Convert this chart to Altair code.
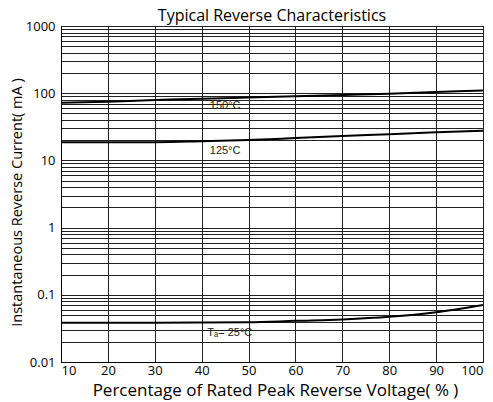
import altair as alt
import pandas as pd

pct = [10, 20, 30, 40, 50, 60, 70, 80, 90, 100]
i_150 = [72, 74.8, 79, 83, 86, 90, 94, 98.4, 104, 110]
i_125 = [18.6, 18.6, 18.7, 19.3, 20.1, 21.5, 23.1, 24.4, 26.2, 27.7]
i_25 = [0.0385, 0.0385, 0.0385, 0.0387, 0.039, 0.041, 0.043, 0.047, 0.055, 0.0705]

series = ["150°C", "125°C", "25°C"]
label_text = ["150°C", "125°C", "Tₐ= 25°C"]
label_x = [45, 45, 46]
label_y = [64, 13.8, 0.0267]

y_grid = [m * 10.0 ** k for k in range(-2, 3) for m in range(1, 10)] + [1000]
x_grid = pct

rows = []
for s, vals in zip(series, [i_150, i_125, i_25]):
    for x, v in zip(pct, vals):
        rows.append({"pct": x, "i": v, "s": s})
df = pd.DataFrame(rows)
lab = pd.DataFrame({"t": label_text, "x": label_x, "y": label_y})

FONT = "Open Sans"

xs = alt.Scale(domain=[10, 100], nice=False, zero=False)
ys = alt.Scale(type="log", domain=[0.01, 1000], nice=False)

lines = alt.Chart(df).mark_line(color="black", strokeWidth=2, interpolate="monotone").encode(
    x=alt.X("pct:Q", scale=xs,
            axis=alt.Axis(values=x_grid, title="Percentage of Rated Peak Reverse Voltage( % )",
                          grid=True, gridColor="#222", gridOpacity=1, ticks=False,
                          labelFont=FONT, labelFontSize=13, labelColor="black", labelPadding=2,
                          titleFont=FONT, titleFontSize=17, titleFontWeight="normal",
                          titleColor="black", titleX=214, titleY=28, titleBaseline="middle",
                          titleAlign="center", domainColor="black")),
    y=alt.Y("i:Q", scale=ys,
            axis=alt.Axis(values=y_grid, title="Instantaneous Reverse Current( mA )",
                          format="~g",
                          labelExpr="abs(log(datum.value)/log(10) - round(log(datum.value)/log(10))) < 1e-6 ? datum.label : ''",
                          grid=True, gridColor="#222", gridOpacity=1, ticks=False,
                          labelFont=FONT, labelFontSize=13, labelColor="black", labelPadding=6,
                          titleFont=FONT, titleFontSize=14.5, titleFontWeight="normal",
                          titleColor="black", titleX=-44, titleY=176, titleBaseline="middle",
                          titleAlign="center", titleAngle=270, domainColor="black")),
    detail="s:N",
)

texts = alt.Chart(lab).mark_text(font="Liberation Sans", fontSize=11, color="#222").encode(
    x=alt.X("x:Q", scale=xs),
    y=alt.Y("y:Q", scale=ys),
    text="t:N",
)

chart = alt.layer(lines, texts).properties(
    width=422, height=336,
    title=alt.TitleParams("Typical Reverse Characteristics", font=FONT, fontSize=16,
                          fontWeight="normal", color="black", offset=0, dy=4),
    autosize=alt.AutoSizeParams(type="none"),
    padding={"left": 53, "top": 18, "right": 2, "bottom": 38},
).configure_view(stroke="black", strokeWidth=1)

chart.save("out.html", embed_options={"renderer": "svg", "actions": False})
